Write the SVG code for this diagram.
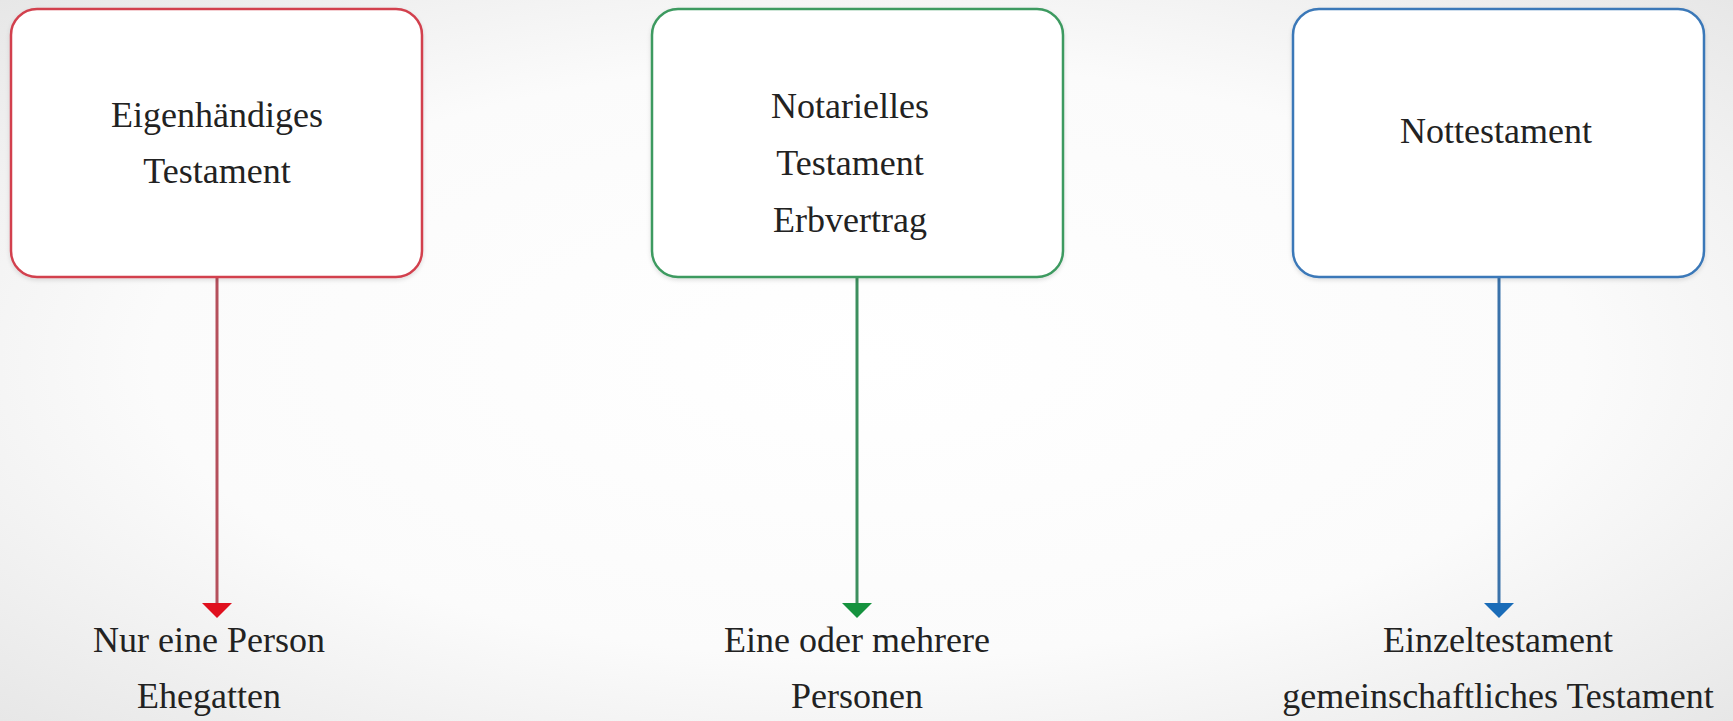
<svg xmlns="http://www.w3.org/2000/svg" width="1733" height="721" viewBox="0 0 1733 721">
  <defs>
    <radialGradient id="bg" cx="50%" cy="50%" r="75%">
      <stop offset="0" stop-color="#ffffff"/>
      <stop offset="0.55" stop-color="#fbfbfb"/>
      <stop offset="1" stop-color="#e4e4e4"/>
    </radialGradient>
    <filter id="sh" x="-5%" y="-5%" width="110%" height="112%">
      <feDropShadow dx="0" dy="2" stdDeviation="2" flood-color="#000" flood-opacity="0.12"/>
    </filter>
    <marker id="ah-red" viewBox="0 -16 16 32" refX="0" refY="0" markerWidth="16" markerHeight="32" markerUnits="userSpaceOnUse" orient="auto">
      <path d="M0,-15 L15,0 L0,15 z" fill="#e0101e"/>
    </marker>
    <marker id="ah-green" viewBox="0 -16 16 32" refX="0" refY="0" markerWidth="16" markerHeight="32" markerUnits="userSpaceOnUse" orient="auto">
      <path d="M0,-15 L15,0 L0,15 z" fill="#15923e"/>
    </marker>
    <marker id="ah-blue" viewBox="0 -16 16 32" refX="0" refY="0" markerWidth="16" markerHeight="32" markerUnits="userSpaceOnUse" orient="auto">
      <path d="M0,-15 L15,0 L0,15 z" fill="#1a6cb8"/>
    </marker>
  </defs>
  <style>
    .box { fill: #ffffff; stroke-width: 2.5; filter: url(#sh); }
    .t { font-family: "Liberation Serif", "DejaVu Serif", serif; font-size: 36px; fill: #222222; text-anchor: middle; }
    .conn { stroke-width: 3; fill: none; }
  </style>
  <rect x="0" y="0" width="1733" height="721" fill="url(#bg)"/>

  <g id="connectors">
    <line class="conn" x1="217" y1="278" x2="217" y2="603" stroke="#b5505c" marker-end="url(#ah-red)"/>
    <line class="conn" x1="857" y1="278" x2="857" y2="603" stroke="#3c8f5e" marker-end="url(#ah-green)"/>
    <line class="conn" x1="1499" y1="278" x2="1499" y2="603" stroke="#3a72aa" marker-end="url(#ah-blue)"/>
  </g>

  <g id="node-eigenhaendig">
    <rect class="box" x="11" y="9" width="411" height="268" rx="26" stroke="#d2404e"/>
    <text class="t" x="217" y="127">Eigenhändiges</text>
    <text class="t" x="217" y="183">Testament</text>
  </g>

  <g id="node-notariell">
    <rect class="box" x="652" y="9" width="411" height="268" rx="26" stroke="#3d9a60"/>
    <text class="t" x="850" y="118">Notarielles</text>
    <text class="t" x="850" y="175">Testament</text>
    <text class="t" x="850" y="232">Erbvertrag</text>
  </g>

  <g id="node-not">
    <rect class="box" x="1293" y="9" width="411" height="268" rx="26" stroke="#3a78b8"/>
    <text class="t" x="1496" y="143">Nottestament</text>
  </g>

  <g id="label-red">
    <text class="t" x="209" y="652">Nur eine Person</text>
    <text class="t" x="209" y="708">Ehegatten</text>
  </g>

  <g id="label-green">
    <text class="t" x="857" y="652">Eine oder mehrere</text>
    <text class="t" x="857" y="708">Personen</text>
  </g>

  <g id="label-blue">
    <text class="t" x="1498" y="652">Einzeltestament</text>
    <text class="t" x="1498" y="708">gemeinschaftliches Testament</text>
  </g>
</svg>
